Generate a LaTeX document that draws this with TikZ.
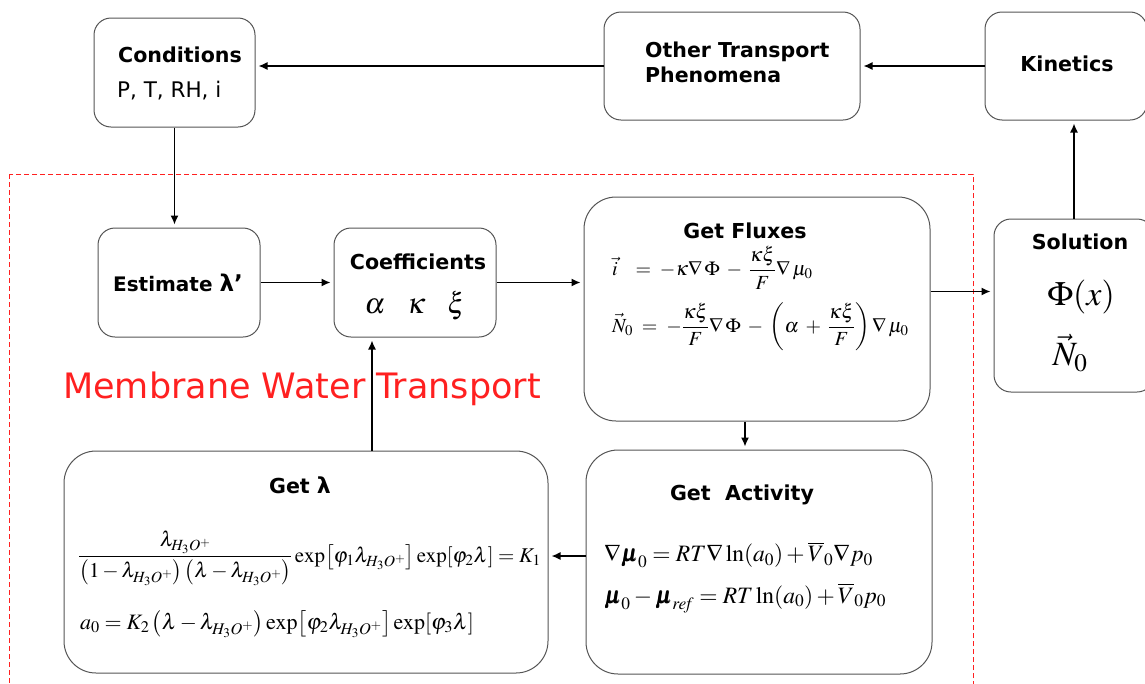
\documentclass[tikz,border=0pt]{standalone}
\usepackage{amsmath}
\usepackage{mathptmx}
\usepackage{bm}
\usepackage{fontspec}
\setmainfont{DejaVu Sans}
\usetikzlibrary{arrows.meta}
\definecolor{boxgray}{HTML}{555555}
\definecolor{regionred}{HTML}{FF2020}
\newcommand{\widespacing}{\medmuskip=6mu\relax\thickmuskip=8mu\relax}
\tikzset{
  box/.style={draw=boxgray, line width=1pt, rounded corners=17pt, fill=white,
    inner sep=0pt, minimum width=#1},
  bigbox/.style={box=#1, rounded corners=32pt},
  title/.style={font=\bfseries\fontsize{20.6}{24}\selectfont, inner sep=0pt},
  plain/.style={font=\fontsize{21.5}{24}\selectfont, inner sep=0pt},
  eqn/.style={inner sep=0pt, anchor=west},
  wideeqn/.style={eqn, font=\fontsize{20}{22}\selectfont\widespacing},
  arr/.style={-{Latex[length=9pt,width=8pt]}, line width=1.4pt, black, shorten >=3pt},
}
\begin{document}
\begin{tikzpicture}[x=1pt, y=-1pt]
\useasboundingbox (0,0) rectangle (1145,683);

% processing region
\draw[regionred, dash pattern=on 5pt off 3pt, line width=0.9pt] (9,174) rectangle (973,700);
\node[font=\fontsize{35}{40}\selectfont, text=regionred, inner sep=0pt, anchor=west]
  (regionlabel) at (63,389) {Membrane Water Transport};

% boxes
\node[box=161pt, minimum height=109pt] (cond)  at (174.5,72.5) {};
\node[box=256pt, minimum height=108pt] (other) at (732,66) {};
\node[box=162pt, minimum height=108pt] (kin)   at (1066,66) {};
\node[box=162pt, minimum height=109pt] (est)   at (179,282.5) {};
\node[box=162pt, minimum height=109pt] (coef)  at (415,282.5) {};
\node[bigbox=346pt, minimum height=224pt] (flux) at (757,309) {};
\node[box=160pt, minimum height=173pt] (sol)  at (1074,305.5) {};
\node[bigbox=484pt, minimum height=222pt] (getl) at (306,562) {};
\node[bigbox=346pt, minimum height=224pt] (act)  at (759,562) {};

% texts
\node[title] (condT) at (180,55) {Conditions};
\node[plain, anchor=west] (condS) at (117,91) {P, T, RH, i};
\node[title, align=left, anchor=north west, font=\bfseries\fontsize{20.5}{25}\selectfont]
  (otherT) at (645,42) {Other Transport\\Phenomena};
\node[title] (kinT) at (1067,64) {Kinetics};
\node[title, font=\bfseries\fontsize{20}{24}\selectfont] (estT) at (178,283)
  {Estimate \fontsize{23}{24}\selectfont λ’};
\node[title] (coefT) at (418,262) {Coefficients};
\node[inner sep=0pt, font=\fontsize{29}{30}\selectfont] (coefS) at (415,306)
  {$\alpha\hspace{0.75em}\kappa\hspace{0.75em}\xi$};
\node[title] (fluxT) at (745,231) {Get Fluxes};
\node[wideeqn] (fluxA) at (612,268)
  {$\vec{i}\;=-\kappa\nabla\,\Phi-\dfrac{\kappa\xi}{F}\nabla\,\mu_0$};
\node[wideeqn] (fluxB) at (612,327)
  {$\vec{N}_0=-\dfrac{\kappa\xi}{F}\nabla\,\Phi-\left(\alpha+\dfrac{\kappa\xi}{F}\right)\nabla\,\mu_0$};
\node[title] (solT) at (1080,242) {Solution};
\node[inner sep=0pt, font=\fontsize{34}{36}\selectfont] (solA) at (1081,297) {$\Phi(x)$};
\node[inner sep=0pt, font=\fontsize{34}{36}\selectfont] (solB) at (1070,353) {$\vec{N}_0$};
\node[title] (getlT) at (300,485) {Get \fontsize{22}{24}\selectfont λ};
\node[eqn, font=\fontsize{21}{24}\selectfont] (getlA) at (78,558)
  {$\dfrac{\lambda_{H_3O^+}}{\left(1-\lambda_{H_3O^+}\right)\left(\lambda-\lambda_{H_3O^+}\right)}\exp\!\left[\varphi_1\lambda_{H_3O^+}\right]\exp\!\left[\varphi_2\lambda\right]=K_1$};
\node[eqn, font=\fontsize{22}{24}\selectfont] (getlB) at (80,624)
  {$a_0=K_2\left(\lambda-\lambda_{H_3O^+}\right)\exp\!\left[\varphi_2\lambda_{H_3O^+}\right]\exp\!\left[\varphi_3\lambda\right]$};
\node[title] (actT) at (742,495) {Get\ \ Activity};
\node[eqn, font=\fontsize{23.5}{26}\selectfont] (actA) at (604,555)
  {$\nabla\bm{\mu}_0=RT\nabla\ln\!\left(a_0\right)+\overline{V}_0\nabla p_0$};
\node[eqn, font=\fontsize{23.5}{26}\selectfont] (actB) at (604,598)
  {$\bm{\mu}_0-\bm{\mu}_{\mathit{ref}}=RT\ln\!\left(a_0\right)+\overline{V}_0 p_0$};

% connectors
\draw[arr] (other.west) -- (other.west -| cond.east);
\draw[arr] (kin.west) -- (kin.west -| other.east);
\draw[arr] (sol.north) -- (sol.north |- kin.south);
\draw[arr] (cond.south) -- (cond.south |- est.north);
\draw[arr] (est.east) -- (coef.west);
\draw[arr] (coef.east) -- (coef.east -| flux.west);
\draw[arr] ([yshift=14pt]sol.west -| flux.east) -- ([yshift=14pt]sol.west);
\draw[arr] ([xshift=-12pt]flux.south) -- ([xshift=-12pt]flux.south |- act.north);
\draw[arr] ([yshift=6pt]act.west) -- ([yshift=6pt]act.west -| getl.east);
\draw[arr] ([xshift=-43pt]coef.south |- getl.north) -- ([xshift=-43pt]coef.south);
\end{tikzpicture}
\end{document}
